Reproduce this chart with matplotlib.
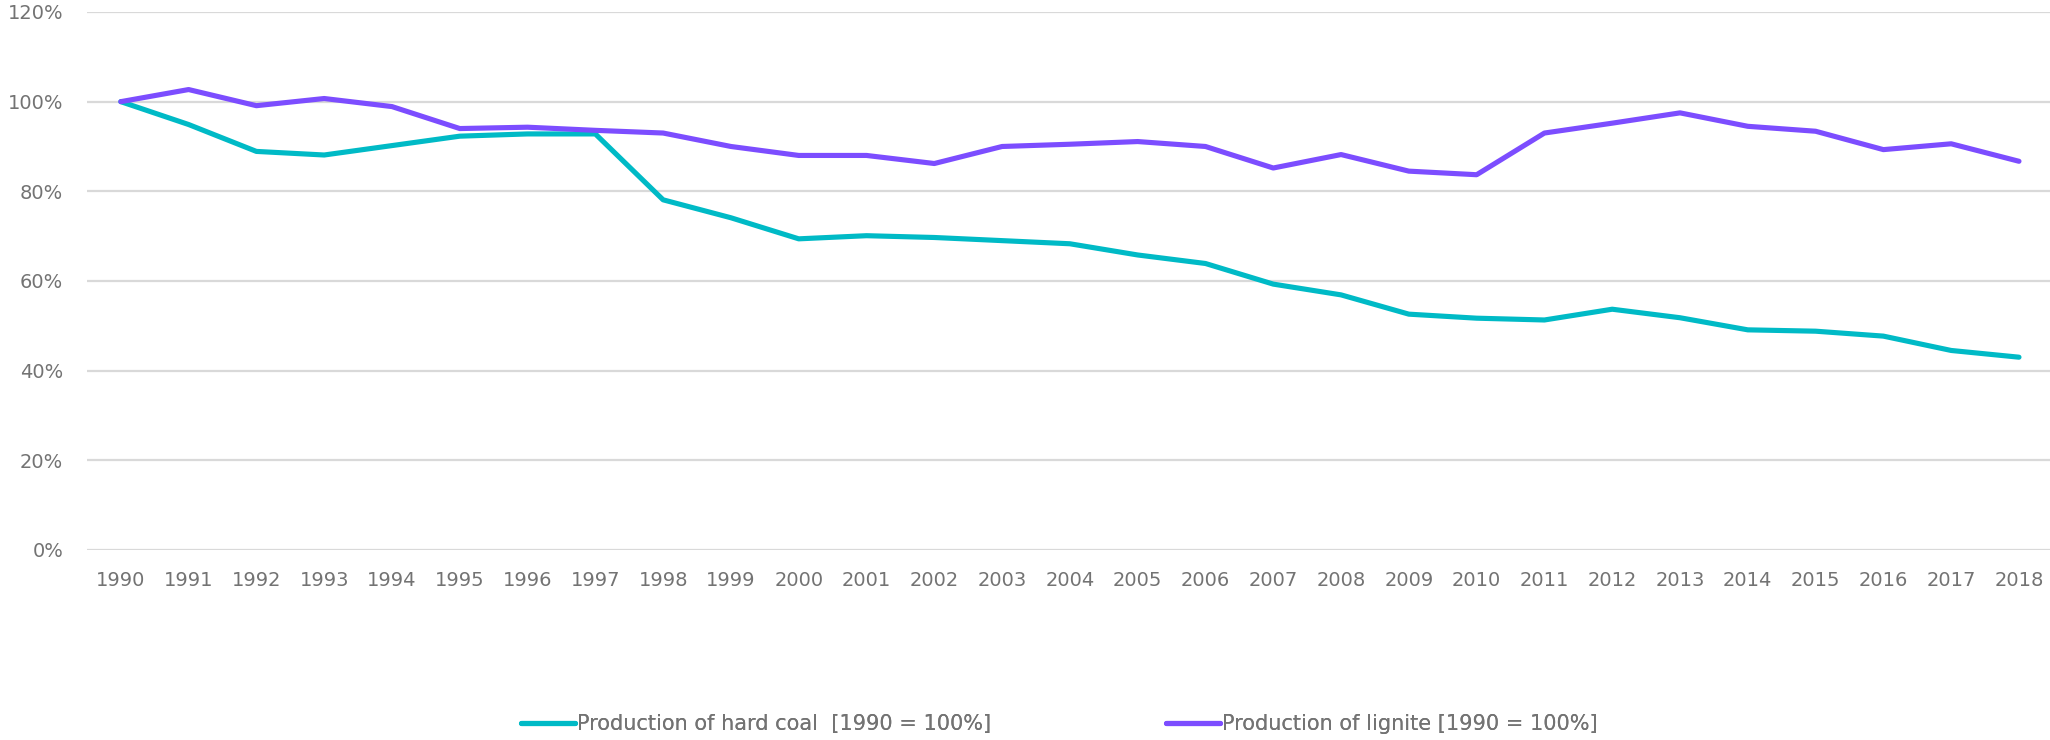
import matplotlib
matplotlib.use("Agg")
import matplotlib.pyplot as plt
from matplotlib.ticker import FuncFormatter

plt.rcParams["font.family"] = ["DejaVu Sans"]

years = list(range(1990, 2019))
year_labels = [str(y) for y in years]

# index values, 1990 = 100 %
hard_coal = [100.0, 94.9, 88.9, 88.1, 90.2, 92.3, 92.8, 92.8, 78.1, 74.1,
             69.4, 70.1, 69.7, 69.0, 68.3, 65.8, 63.9, 59.3, 56.9, 52.6,
             51.7, 51.3, 53.7, 51.8, 49.1, 48.8, 47.7, 44.5, 43.0]
lignite = [100.0, 102.7, 99.1, 100.7, 98.9, 94.0, 94.3, 93.6, 93.0, 90.0,
           88.0, 88.0, 86.2, 90.0, 90.5, 91.1, 90.0, 85.2, 88.2, 84.5,
           83.7, 93.0, 95.2, 97.5, 94.5, 93.4, 89.3, 90.6, 86.7]

series_names = ["Production of hard coal  [1990 = 100%]",
                "Production of lignite [1990 = 100%]"]
series_colors = ["#00BAC6", "#7C4DFF"]

TEXT = "#737373"
GRID = "#D9D9D9"

fig = plt.figure(figsize=(20.5, 7.4), dpi=100)
ax = fig.add_axes([0.0424, 0.2568, 0.959, 0.7270])

x = list(range(len(years)))
lines = []
for vals, name, col in zip([hard_coal, lignite], series_names, series_colors):
    ln, = ax.plot(x, [v / 100 for v in vals], color=col, lw=3.7,
                  solid_capstyle="round", solid_joinstyle="round", label=name)
    lines.append(ln)

ax.set_xlim(-0.5, len(years) - 0.5)
ax.set_ylim(0, 1.2)
ax.set_yticks([i * 0.2 for i in range(7)])
ax.yaxis.set_major_formatter(FuncFormatter(lambda v, p: f"{v * 100:.0f}%"))
ax.set_xticks(x)
ax.set_xticklabels(year_labels)

ax.grid(axis="y", color=GRID, lw=1.6)
ax.set_axisbelow(True)
for s in ax.spines.values():
    s.set_visible(False)
ax.tick_params(axis="both", length=0, colors=TEXT, labelsize=14)
ax.tick_params(axis="y", pad=17)
ax.tick_params(axis="x", pad=15)

# one legend per entry so each sits where the reference puts it
for ln, x0 in zip(lines, [511 / 2050, 1156 / 2050]):
    leg = fig.legend(handles=[ln], loc="center left", bbox_to_anchor=(x0, 0.0216),
                     frameon=False, fontsize=15, labelcolor=TEXT, borderpad=0,
                     handlelength=2.55, handletextpad=0.12)
    fig.add_artist(leg)

fig.savefig("out.png", dpi=100)
